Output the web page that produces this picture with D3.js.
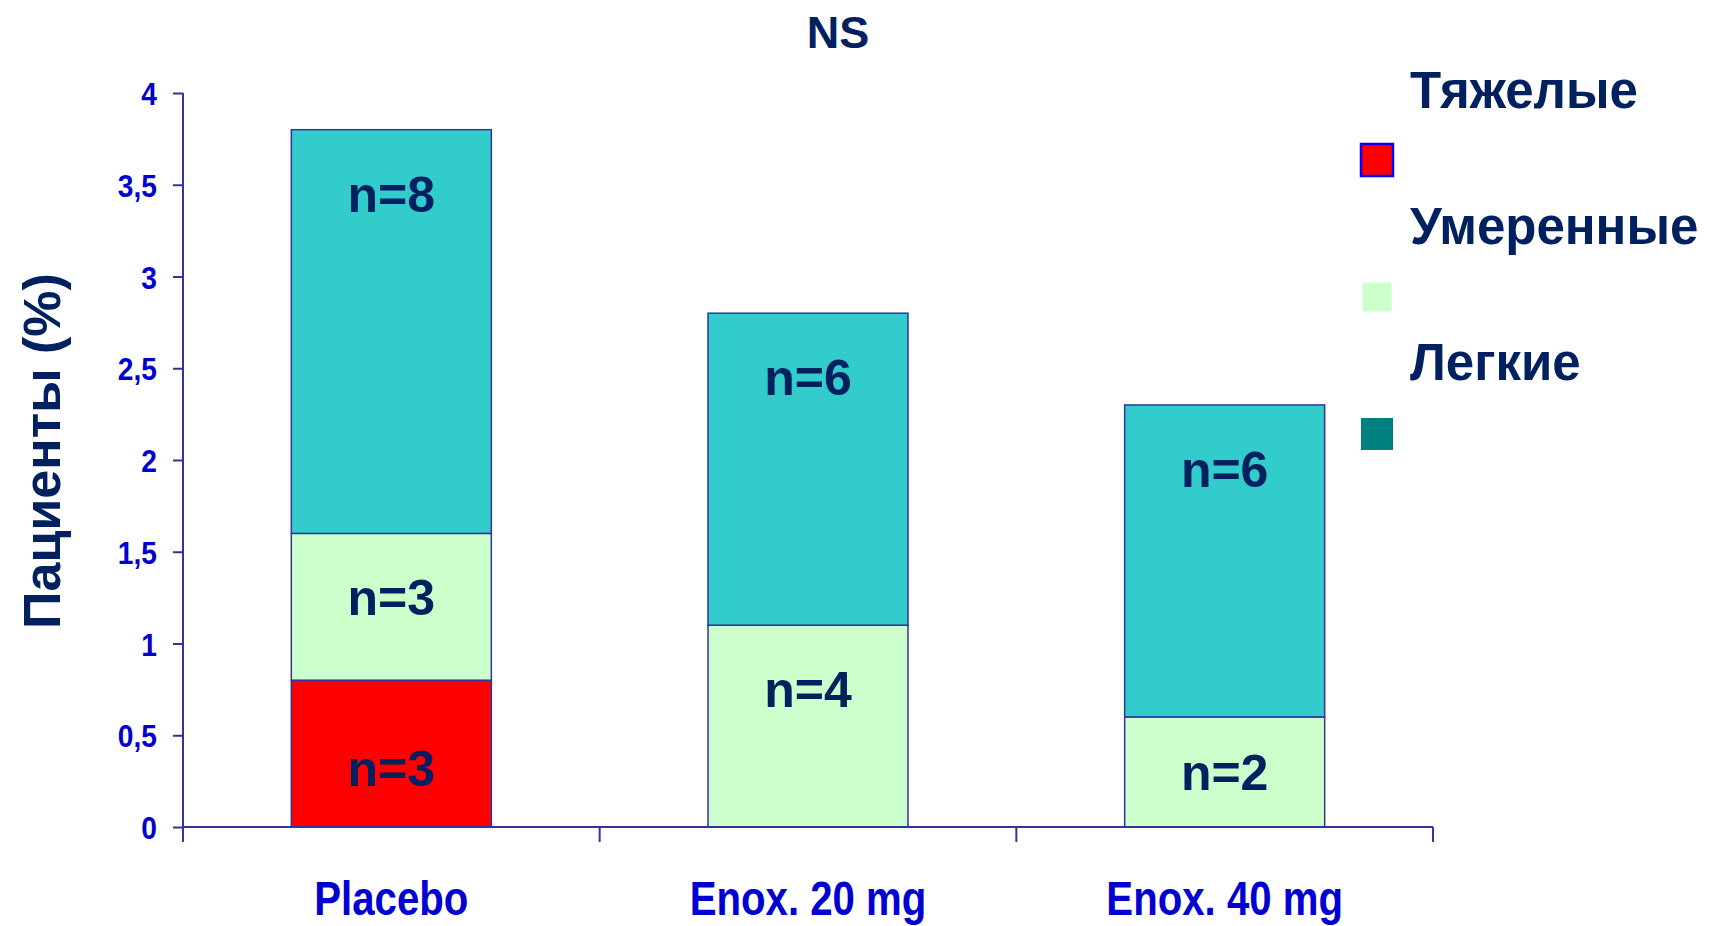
<!DOCTYPE html>
<html>
<head>
<meta charset="utf-8">
<script src="https://cdn.jsdelivr.net/npm/d3@7"></script>
<style>
  html, body { margin: 0; padding: 0; background: #ffffff; }
  svg { display: block; }
  text { font-family: "Liberation Sans", Arial, sans-serif; font-weight: bold; }
</style>
</head>
<body>
<svg id="chart" width="1715" height="926"></svg>
<script>
// Adverse events by severity, % of patients
const categories = ["Placebo", "Enox. 20 mg", "Enox. 40 mg"];
const severe   = [0.8, 0, 0];     // Тяжелые
const moderate = [0.8, 1.1, 0.6]; // Умеренные
const mild     = [2.2, 1.7, 1.7]; // Легкие
const nSevere   = [3, null, null];
const nModerate = [3, 4, 2];
const nMild     = [8, 6, 6];
const seriesNames = ["Тяжелые", "Умеренные", "Легкие"];
const yTicks = [0, 0.5, 1, 1.5, 2, 2.5, 3, 3.5, 4];
const title = "NS";
const yTitle = "Пациенты (%)";

const barColors    = ["#ff0000", "#ccffcc", "#33cccc"];
const legendColors = ["#ff0000", "#ccffcc", "#008080"];
const navy = "#00205f";
const axisColor = "#333399";
const tickColor = "#0000d0";

const svg = d3.select("#chart");

const x = d3.scaleBand()
  .domain(categories)
  .range([183, 1433])
  .paddingInner(0.52)
  .paddingOuter(0.26);

const y = d3.scaleLinear().domain([0, 4]).range([827, 93]);

// stacked layers
const rows = categories.map((c, i) => ({
  cat: c, severe: severe[i], moderate: moderate[i], mild: mild[i],
  n: [nSevere[i], nModerate[i], nMild[i]]
}));
const keys = ["severe", "moderate", "mild"];
const stacked = d3.stack().keys(keys)(rows);

stacked.forEach((layer, li) => {
  const g = svg.append("g");
  layer.forEach(d => {
    if (d[1] - d[0] <= 0) return;
    g.append("rect")
      .attr("x", x(d.data.cat))
      .attr("y", y(d[1]))
      .attr("width", x.bandwidth())
      .attr("height", y(d[0]) - y(d[1]))
      .attr("fill", barColors[li])
      .attr("stroke", axisColor)
      .attr("stroke-width", 1.5);
  });
});

// segment labels: centred in short segments, near the top of tall ones
const labelSize = 50;
stacked.forEach((layer, li) => {
  layer.forEach(d => {
    const n = d.data.n[li];
    if (n == null || d[1] - d[0] <= 0) return;
    const top = y(d[1]);
    const mid = (y(d[0]) + y(d[1])) / 2;
    const cy = li === 0 ? mid + 14 : Math.min(mid, top + 64);
    svg.append("text")
      .attr("x", x(d.data.cat) + x.bandwidth() / 2)
      .attr("y", cy + labelSize * 0.36)
      .attr("text-anchor", "middle")
      .attr("font-size", labelSize)
      .attr("fill", navy)
      .text("n=" + n);
  });
});

// y axis
const yAxis = d3.axisLeft(y)
  .tickValues(yTicks)
  .tickSize(10)
  .tickPadding(16)
  .tickFormat(d => String(d).replace(".", ","));
const gy = svg.append("g").attr("transform", "translate(183,0)").call(yAxis);
gy.select(".domain").attr("stroke", axisColor).attr("stroke-width", 2).attr("d", "M0," + y(4) + "V" + y(0));
gy.selectAll(".tick line").attr("stroke", axisColor).attr("stroke-width", 2);
gy.selectAll(".tick text")
  .attr("fill", tickColor)
  .attr("font-size", 32)
  .attr("font-family", "'Liberation Sans', Arial, sans-serif")
  .attr("font-weight", "bold")
  .attr("dy", "0.36em")
  .each(function() {
    const t = d3.select(this);
    const xx = +t.attr("x");
    t.attr("x", null).attr("transform", "translate(" + xx + ",0) scale(0.88,1)");
  });

// x axis line and boundary ticks
const gx = svg.append("g");
const [x0, x1] = x.range();
gx.append("line")
  .attr("x1", x0).attr("x2", x1).attr("y1", y(0)).attr("y2", y(0))
  .attr("stroke", axisColor).attr("stroke-width", 2);
d3.range(categories.length + 1).forEach(i => {
  const xx = x0 + i * x.step();
  gx.append("line")
    .attr("x1", xx).attr("x2", xx).attr("y1", y(0)).attr("y2", y(0) + 15)
    .attr("stroke", axisColor).attr("stroke-width", 2);
});
categories.forEach(c => {
  gx.append("text")
    .attr("transform", "translate(" + (x(c) + x.bandwidth() / 2) + ",915) scale(0.82,1)")
    .attr("text-anchor", "middle")
    .attr("font-size", 49)
    .attr("fill", tickColor)
    .text(c);
});

// title
svg.append("text")
  .attr("x", 838).attr("y", 48)
  .attr("text-anchor", "middle")
  .attr("font-size", 45)
  .attr("fill", navy)
  .text(title);

// y axis title
svg.append("text")
  .attr("transform", "translate(60,451) rotate(-90)")
  .attr("text-anchor", "middle")
  .attr("font-size", 52)
  .attr("fill", navy)
  .text(yTitle);

// legend
const legend = svg.append("g");
seriesNames.forEach((name, i) => {
  legend.append("text")
    .attr("x", 1410).attr("y", 108 + i * 136)
    .attr("font-size", 51)
    .attr("fill", navy)
    .text(name);
  const size = i === 1 ? 29 : 32;
  legend.append("rect")
    .attr("x", 1377 - size / 2).attr("y", 160 + i * 137 - size / 2)
    .attr("width", size).attr("height", size)
    .attr("fill", legendColors[i])
    .attr("stroke", i === 0 ? "#0000ff" : "none")
    .attr("stroke-width", 2.5);
});
</script>
</body>
</html>
